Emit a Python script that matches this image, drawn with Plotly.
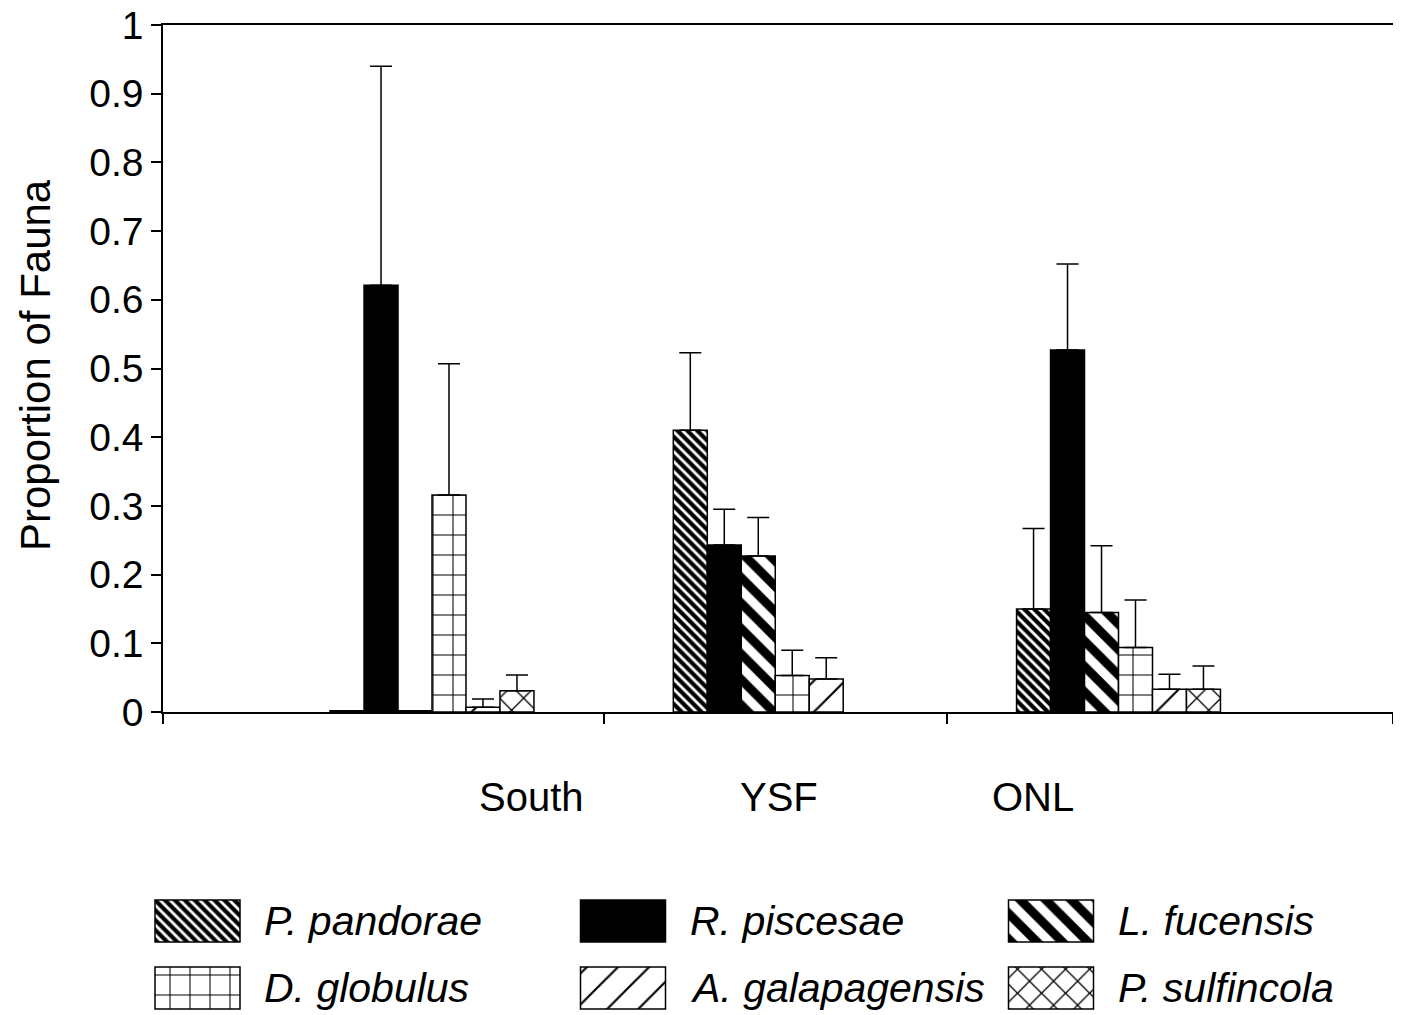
import plotly.graph_objects as go

# ---- data ----
sites = ["South", "YSF", "ONL"]
species = ["P. pandorae", "R. piscesae", "L. fucensis",
           "D. globulus", "A. galapagensis", "P. sulfincola"]
p_pandorae = [0.002, 0.410, 0.150]
r_piscesae = [0.621, 0.243, 0.527]
l_fucensis = [0.002, 0.227, 0.145]
d_globulus = [0.316, 0.053, 0.094]
a_galapagensis = [0.007, 0.048, 0.033]
p_sulfincola = [0.031, None, 0.033]

err_p_pandorae = [0.0, 0.113, 0.117]
err_r_piscesae = [0.319, 0.052, 0.125]
err_l_fucensis = [0.0, 0.056, 0.097]
err_d_globulus = [0.191, 0.037, 0.069]
err_a_galapagensis = [0.012, 0.031, 0.022]
err_p_sulfincola = [0.023, 0.0, 0.034]

yticks = [0, 0.1, 0.2, 0.3, 0.4, 0.5, 0.6, 0.7, 0.8, 0.9, 1]

values = [p_pandorae, r_piscesae, l_fucensis, d_globulus, a_galapagensis, p_sulfincola]
errors = [err_p_pandorae, err_r_piscesae, err_l_fucensis, err_d_globulus,
          err_a_galapagensis, err_p_sulfincola]

# ---- styles ----
patterns = [
    dict(shape="\\", size=7, solidity=0.6, fgcolor="black", bgcolor="white", fgopacity=1),
    dict(shape="", fgcolor="black", bgcolor="black", fgopacity=1),
    dict(shape="\\", size=18, solidity=0.5, fgcolor="black", bgcolor="white", fgopacity=1),
    dict(shape="+", size=20, solidity=0.1, fgcolor="black", bgcolor="white", fgopacity=1),
    dict(shape="/", size=22, solidity=0.1, fgcolor="black", bgcolor="white", fgopacity=1),
    dict(shape="x", size=17, solidity=0.15, fgcolor="black", bgcolor="white", fgopacity=1),
]
colors = ["white", "black", "white", "white", "white", "white"]

FONT = "Liberation Sans, Arial, Helvetica, sans-serif"

fig = go.Figure()
xpos = [1, 2, 3]
for i, sp in enumerate(species):
    fig.add_trace(go.Bar(
        x=xpos, y=values[i], name=sp, showlegend=False,
        marker=dict(color=colors[i], pattern=patterns[i],
                    line=dict(color="black", width=1.5)),
        error_y=dict(type="data", symmetric=False, array=errors[i],
                     arrayminus=[0, 0, 0], color="black", thickness=1.5, width=11,
                     visible=True),
    ))

# ---- custom legend (large swatches) in its own pixel-scaled axes ----
leg_cx = [197.5, 623, 1051, 197.5, 623, 1051]
leg_top = [900, 900, 900, 967, 967, 967]
leg_h = 42
leg_text_x = [262, 688, 1116, 262, 688, 1116]
for i, sp in enumerate(species):
    fig.add_trace(go.Bar(
        x=[leg_cx[i]], y=[leg_h], base=[leg_top[i]], width=[85], offset=-42.5,
        xaxis="x2", yaxis="y2", showlegend=False, hoverinfo="skip",
        marker=dict(color=colors[i], pattern=patterns[i],
                    line=dict(color="black", width=1.5)),
    ))
    fig.add_annotation(x=leg_text_x[i], y=leg_top[i] + leg_h / 2, xref="x2", yref="y2",
                       text="<i>" + sp + "</i>", showarrow=False, xanchor="left",
                       yanchor="middle", font=dict(family=FONT, size=41, color="black"))

# category labels (placed as in the original, offset from groups)
cat_label_x = [1.29, 2.01, 2.75]
for s, lx in zip(sites, cat_label_x):
    fig.add_annotation(x=lx, y=0.22645, xref="x", yref="paper", text=s, showarrow=False,
                       xanchor="center", yanchor="middle",
                       font=dict(family=FONT, size=40, color="black"))

# y title
fig.add_annotation(x=-0.08307, y=0.6593, xref="paper", yref="paper",
                   text="Proportion of Fauna", textangle=-90, showarrow=False,
                   xanchor="center", yanchor="middle",
                   font=dict(family=FONT, size=42, color="black"))

x0, x1 = 0.2163, 3.7997
fig.update_layout(
    width=1401, height=1015,
    margin=dict(l=132, r=5, t=17, b=0, autoexpand=False),
    paper_bgcolor="white", plot_bgcolor="white",
    barmode="group", bargap=0.406, bargroupgap=0,
    font=dict(family=FONT, color="black"),
    xaxis=dict(domain=[0.018196, 0.99130], range=[x0, x1], automargin=False,
               tickvals=[x0, 1.5, 2.5, x1], showticklabels=False,
               ticks="outside", ticklen=10, tickwidth=1.5, tickcolor="black",
               showline=True, linecolor="black", linewidth=1.5, mirror=True,
               showgrid=False, zeroline=False),
    yaxis=dict(domain=[0.31162, 1.0], range=[0, 1], tickvals=yticks, automargin=False,
               ticklabeloverflow="allow",
               ticks="outside", ticklen=10, tickwidth=1.5, tickcolor="black",
               showline=True, linecolor="black", linewidth=1.5, mirror="ticks",
               showgrid=False, zeroline=False,
               tickfont=dict(family=FONT, size=39, color="black")),
    xaxis2=dict(domain=[0, 1], range=[140, 1404], visible=False, anchor="y2",
                automargin=False),
    yaxis2=dict(domain=[0, 0.13828], range=[1023, 885], visible=False, anchor="x2",
                automargin=False),
)

fig.write_html("out.html")
